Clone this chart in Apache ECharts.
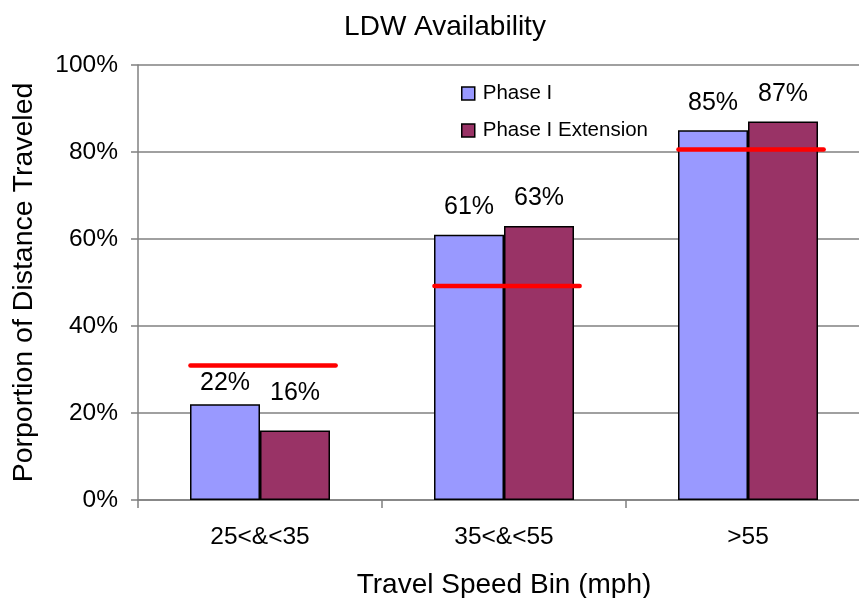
<!DOCTYPE html>
<html>
<head>
<meta charset="utf-8">
<script src="https://cdn.jsdelivr.net/npm/echarts@6/dist/echarts.min.js"></script>
<style>
  html, body { margin: 0; padding: 0; background: #fff; }
  #chart { width: 859px; height: 598px; }
</style>
</head>
<body>
<div id="chart"></div>
<script>
// values (percent)
const categories = ['25<&<35', '35<&<55', '>55']
const phase1 = [22, 61, 85]
const phase1Ext = [16, 63, 87]
const targets = [30.9, 49.2, 80.6]
const yTicks = [0, 20, 40, 60, 80, 100]

const font = 'Liberation Sans, Arial, sans-serif'
const gray = '#808080'

const chart = echarts.init(document.getElementById('chart'))

// Excel nudged the first pair of labels apart a bit
const labelShift = [[0, 6], [0, -10]]

function barData(vals, s){
  return vals.map((v, i) => {
    const item = {value: v}
    if(i === 0) item.label = {offset: labelShift[s]}
    return item
  })
}

const barLabel = {
  show: true,
  position: 'top',
  distance: 15,
  formatter: '{c}%',
  color: '#000',
  fontFamily: font,
  fontSize: 25
}

const options = {
  animation: false,
  backgroundColor: '#fff',
  title: {
    text: 'LDW Availability',
    left: 440,
    textAlign: 'center',
    top: 8,
    textStyle: {fontFamily: font, fontSize: 28, fontWeight: 'normal', color: '#000'}
  },
  legend: {
    data: ['Phase I', 'Phase I Extension'],
    orient: 'vertical',
    left: 456,
    top: 78,
    itemWidth: 13,
    itemHeight: 13,
    itemGap: 16,
    icon: 'rect',
    itemStyle: {borderColor: '#000', borderWidth: 1.5},
    textStyle: {fontFamily: font, fontSize: 20.5, color: '#000', padding: [0, 0, 0, 3]}
  },
  // plot runs past the right edge of the picture, as in the original
  grid: {left: 138, right: -11, top: 65, bottom: 98, outerBoundsMode: 'none'},
  xAxis: {
    type: 'category',
    data: categories,
    name: 'Travel Speed Bin (mph)',
    nameLocation: 'middle',
    nameGap: 71,
    nameTextStyle: {fontFamily: font, fontSize: 28, color: '#000'},
    axisLine: {lineStyle: {color: gray, width: 1.5}},
    axisTick: {show: true, length: 8, lineStyle: {color: gray, width: 1.5}},
    axisLabel: {fontFamily: font, fontSize: 24.5, color: '#000', margin: 25}
  },
  yAxis: {
    type: 'value',
    min: yTicks[0],
    max: yTicks[yTicks.length - 1],
    interval: yTicks[1] - yTicks[0],
    name: 'Porportion of Distance Traveled',
    nameLocation: 'middle',
    nameGap: 99,
    nameTextStyle: {fontFamily: font, fontSize: 28.5, color: '#000'},
    axisLine: {show: true, lineStyle: {color: gray, width: 1.5}},
    axisTick: {show: true, length: 7, lineStyle: {color: gray, width: 1.5}},
    axisLabel: {fontFamily: font, fontSize: 24.5, color: '#000', margin: 20, formatter: '{value}%'},
    splitLine: {show: true, lineStyle: {color: gray, width: 1.5}}
  },
  series: [
    {
      name: 'Phase I',
      type: 'bar',
      barWidth: 70,
      barGap: '0%',
      data: barData(phase1, 0),
      itemStyle: {color: '#9999FF', borderColor: '#000', borderWidth: 1.5},
      label: barLabel
    },
    {
      name: 'Phase I Extension',
      type: 'bar',
      barWidth: 70,
      data: barData(phase1Ext, 1),
      itemStyle: {color: '#993366', borderColor: '#000', borderWidth: 1.5},
      label: barLabel
    },
    {
      name: 'Target',
      type: 'custom',
      z: 5,
      data: targets.map((v, i) => [i, v]),
      renderItem: function(params, api){
        const pt = api.coord([api.value(0), api.value(1)])
        const bw = api.size([1, 0])[0]
        return {
          type: 'line',
          shape: {x1: pt[0] - bw * 0.285, y1: pt[1], x2: pt[0] + bw * 0.31, y2: pt[1]},
          style: {stroke: '#FF0000', lineWidth: 4.5, lineCap: 'round'}
        }
      }
    }
  ]
}

chart.setOption(options)
</script>
</body>
</html>
